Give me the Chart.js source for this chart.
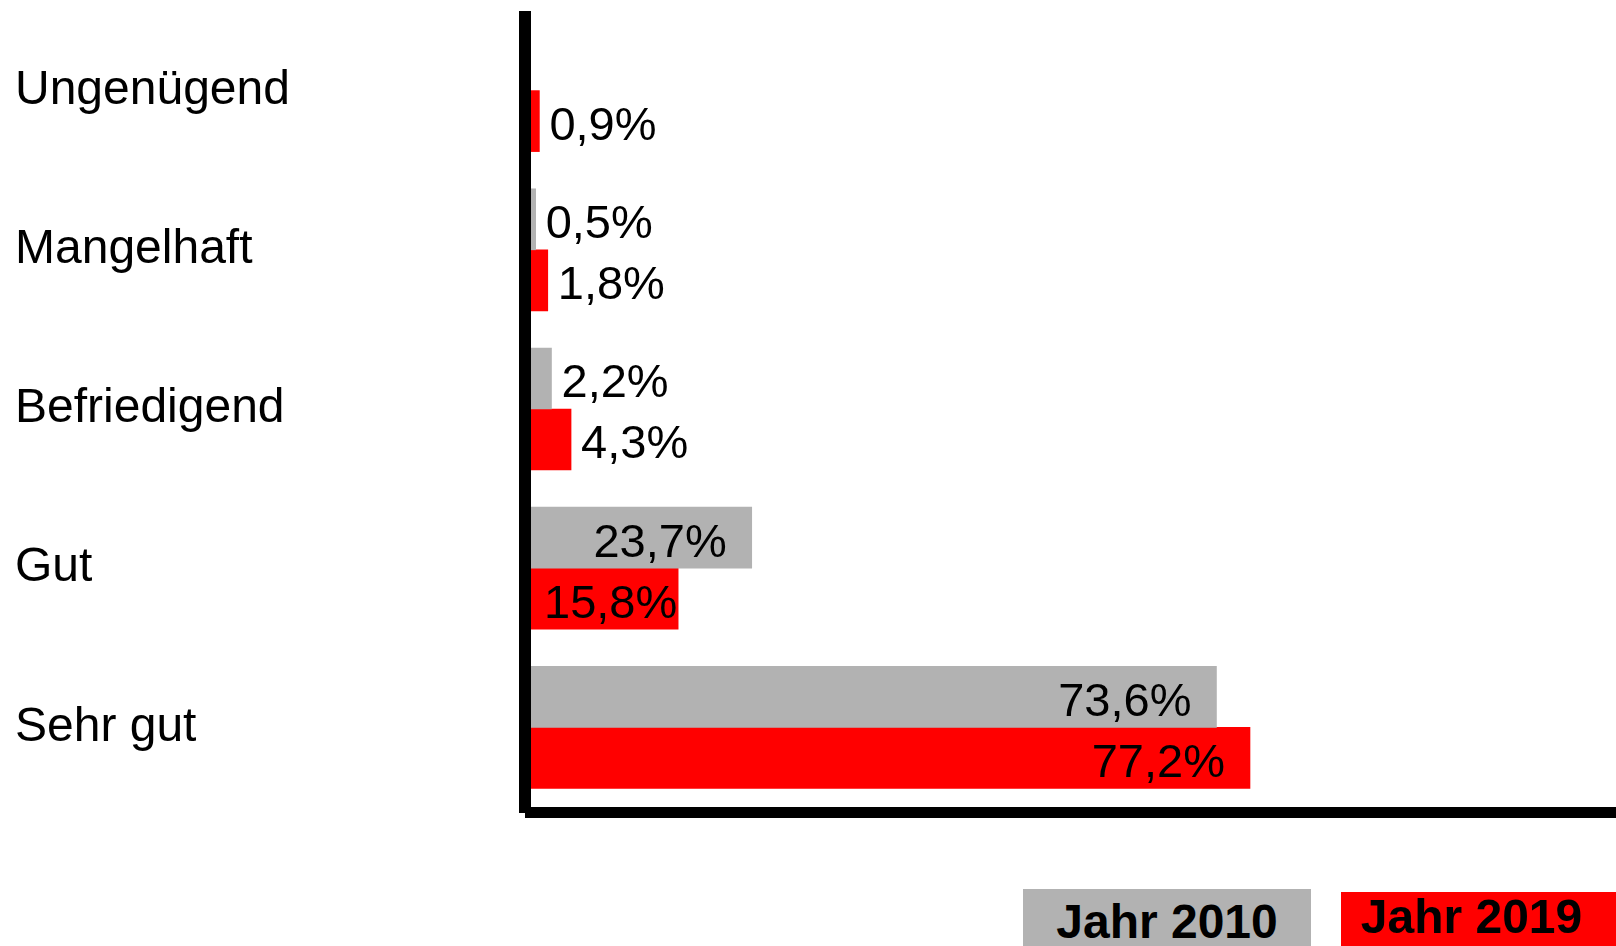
<!DOCTYPE html>
<html>
<head>
<meta charset="utf-8">
<script src="https://cdn.jsdelivr.net/npm/chart.js@4"></script>
<style>
  html, body { margin: 0; padding: 0; background: #fff; }
  .wrap { position: relative; width: 1616px; height: 946px; overflow: hidden; }
  .legend-item {
    position: absolute;
    font-family: 'Liberation Sans', Arial, sans-serif;
    font-weight: bold;
    font-size: 48px;
    color: #000;
    text-align: center;
    overflow: hidden;
  }
</style>
</head>
<body>
<div class="wrap">
  <canvas id="chart" width="1616" height="946"></canvas>
</div>
<script>
const categories = ['Ungenügend', 'Mangelhaft', 'Befriedigend', 'Gut', 'Sehr gut'];
const year2010 = [null, 0.5, 2.2, 23.7, 73.6];
const year2019 = [0.9, 1.8, 4.3, 15.8, 77.2];
const seriesLabels = ['Jahr 2010', 'Jahr 2019'];
const GRAY = '#b2b2b2';
const RED = '#ff0000';
const FONT = "'Liberation Sans', Arial, sans-serif";

// thick black axis lines, drawn just outside the plot area
const axisLines = {
  id: 'axisLines',
  afterDraw(chart) {
    const { ctx, chartArea } = chart;
    ctx.save();
    ctx.fillStyle = '#000';
    ctx.fillRect(chartArea.left - 12, chartArea.top, 12, chartArea.bottom - chartArea.top + 6);
    ctx.fillRect(chartArea.left - 6, chartArea.bottom, chartArea.right - chartArea.left + 6, 11);
    ctx.restore();
  },
};

const valueLabels = {
  id: 'valueLabels',
  afterDatasetsDraw(chart) {
    const ctx = chart.ctx;
    ctx.save();
    ctx.font = '47px ' + FONT;
    ctx.fillStyle = '#000';
    ctx.textBaseline = 'middle';
    chart.data.datasets.forEach((ds, i) => {
      chart.getDatasetMeta(i).data.forEach((bar, j) => {
        const v = ds.data[j];
        if (v === null) return;
        const text = v.toFixed(1).replace('.', ',') + '%';
        const w = ctx.measureText(text).width;
        let x;
        if (v > 10) {
          x = Math.max(bar.x - 25 - w, bar.base + 13);
        } else {
          x = bar.x + 10;
        }
        ctx.textAlign = 'left';
        ctx.fillText(text, x, bar.y + 6);
      });
    });
    ctx.restore();
  },
};

const chart = new Chart(document.getElementById('chart'), {
  type: 'bar',
  data: {
    labels: categories,
    datasets: [
      { label: seriesLabels[0], data: year2010, backgroundColor: GRAY, barThickness: 61 },
      { label: seriesLabels[1], data: year2019, backgroundColor: RED, barThickness: 61 },
    ],
  },
  options: {
    indexAxis: 'y',
    responsive: false,
    animation: false,
    layout: { padding: { left: 15, top: 11, right: 0, bottom: 139 } },
    plugins: { legend: { display: false }, tooltip: { enabled: false } },
    scales: {
      x: { display: false, min: 0, max: 116.5 },
      y: {
        grid: { display: false },
        border: { display: false },
        ticks: { crossAlign: 'far', color: '#000', font: { family: FONT, size: 48 }, padding: 0 },
        afterFit(scale) {
          scale.width = 516;
          scale.paddingTop = 0;
          scale.paddingBottom = 0;
        },
      },
    },
  },
  plugins: [axisLines, valueLabels],
});

function makeLegend() {
  const wrap = document.querySelector('.wrap');
  const boxes = [
    { left: 1023, top: 889, width: 288, lineHeight: 66 },
    { left: 1341, top: 892, width: 261, lineHeight: 50, extra: 14 },
  ];
  chart.data.datasets.forEach((ds, i) => {
    const b = boxes[i];
    const el = document.createElement('div');
    el.className = 'legend-item';
    el.textContent = ds.label;
    el.style.background = ds.backgroundColor;
    el.style.left = b.left + 'px';
    el.style.top = b.top + 'px';
    el.style.width = b.width + 'px';
    el.style.paddingRight = (b.extra || 0) + 'px';
    el.style.height = (946 - b.top) + 'px';
    el.style.lineHeight = b.lineHeight + 'px';
    wrap.appendChild(el);
  });
}

makeLegend();
</script>
</body>
</html>
